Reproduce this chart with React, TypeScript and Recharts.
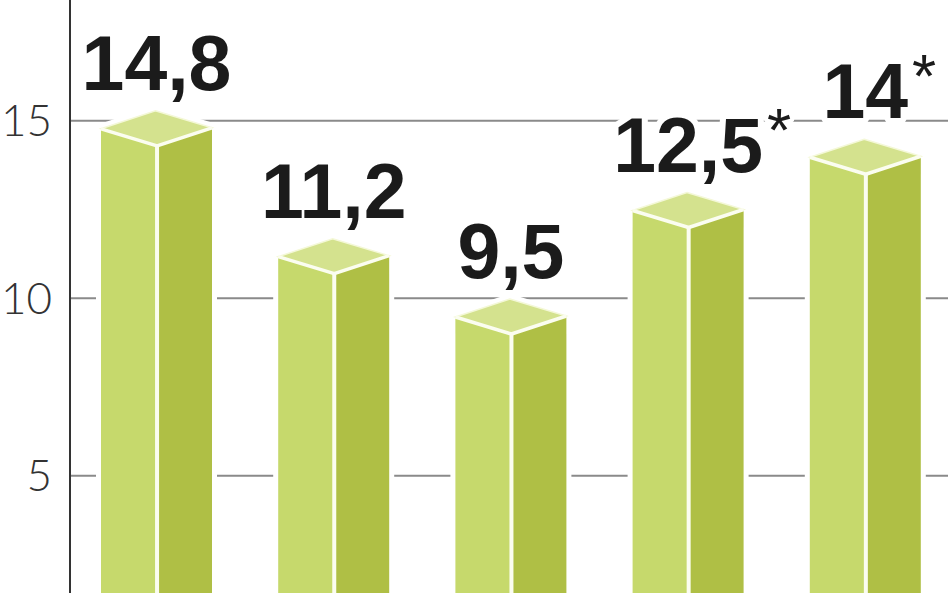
import { Bar, BarChart, CartesianGrid, LabelList, XAxis, YAxis } from "recharts";

// Five columns, no visible category labels; values use a decimal comma.
const categories = ["1", "2", "3", "4", "5"];
const values = [14.8, 11.2, 9.5, 12.5, 14];
const notes = ["", "", "", "*", "*"];
const yTicks = [5, 10, 15];

const data = categories.map((name, i) => ({ name, value: values[i] }));

const FRONT = "#c6d96c";
const SIDE = "#afbf45";
const TOP = "#d4e28e";
const LABEL_FONT = "'Liberation Sans', Arial, sans-serif";

const pts = (a: number[][]) => a.map((p) => p.join(",")).join(" ");

function Cube(props: any) {
  const { x, y, width, height } = props;
  if (width == null || height == null) return null;
  const bottom = y + height + 20;
  const mid = x + width * 0.505;
  const top = [x + width * 0.49, y - 17];
  const left = [x, y + 1];
  const front = [mid, y + 18];
  const right = [x + width, y];
  return (
    <g>
      <polygon
        points={pts([top, right, [x + width, bottom], [x, bottom], left])}
        fill="#fff"
        stroke="#fff"
        strokeWidth={10}
        strokeLinejoin="round"
      />
      <polygon points={pts([left, front, [mid, bottom], [x, bottom]])} fill={FRONT} />
      <polygon points={pts([front, right, [x + width, bottom], [mid, bottom]])} fill={SIDE} />
      <polygon points={pts([top, right, front, left])} fill={TOP} stroke="#f4f8d8" strokeWidth={1.5} />
      <polyline
        points={pts([left, front, right])}
        fill="none"
        stroke="#fbfdf0"
        strokeWidth={3.5}
        strokeLinejoin="round"
      />
      <line x1={mid} y1={front[1]} x2={mid} y2={bottom} stroke="#fbfdf0" strokeWidth={4} />
    </g>
  );
}

// rough Liberation Sans Bold advance widths, used to hang the asterisk after the digits
const textWidth = (s: string, size: number) =>
  s.split("").reduce((w, c) => w + (c === "," ? 0.278 : 0.556), 0) * size;

function ValueLabel(props: any) {
  const { x, y, width, value, index } = props;
  const txt = String(value).replace(".", ",");
  const cx = x + width / 2;
  const base = y - 38;
  const note = notes[index] || "";
  const common = {
    fontFamily: LABEL_FONT,
    fill: "#1b1b1b",
    stroke: "#fff",
    strokeLinejoin: "round" as const,
    paintOrder: "stroke",
  };
  return (
    <g>
      <text x={cx} y={base} textAnchor="middle" fontWeight={700} fontSize={77} strokeWidth={12} {...common}>
        {txt}
      </text>
      {note && (
        <text
          x={cx + textWidth(txt, 77) / 2 + 4}
          y={base - 21}
          textAnchor="start"
          fontWeight={400}
          fontSize={62}
          strokeWidth={8}
          {...common}
        >
          {note}
        </text>
      )}
    </g>
  );
}

export default function App() {
  return (
    <div
      style={{
        position: "fixed",
        left: 0,
        top: 0,
        width: 948,
        height: 593,
        overflow: "hidden",
        background: "#fff",
      }}
    >
      <BarChart width={948} height={593} data={data} margin={{ top: 0, right: 0, bottom: 0, left: 0 }}>
        <CartesianGrid vertical={false} horizontalValues={yTicks} stroke="#8a8a8a" strokeWidth={2} />
        <XAxis dataKey="name" hide padding={{ left: -2, right: -6 }} />
        <YAxis
          width={70}
          domain={[1.7, 18.4]}
          allowDataOverflow
          ticks={yTicks}
          tickLine={false}
          tickMargin={12}
          axisLine={{ stroke: "#333", strokeWidth: 2 }}
          tick={{ fontSize: 44, fill: "#333", fontFamily: "Lato, 'Open Sans', sans-serif", fontWeight: 300 }}
        />
        <Bar dataKey="value" barSize={111} shape={<Cube />} isAnimationActive={false}>
          <LabelList dataKey="value" content={<ValueLabel />} />
        </Bar>
      </BarChart>
    </div>
  );
}
